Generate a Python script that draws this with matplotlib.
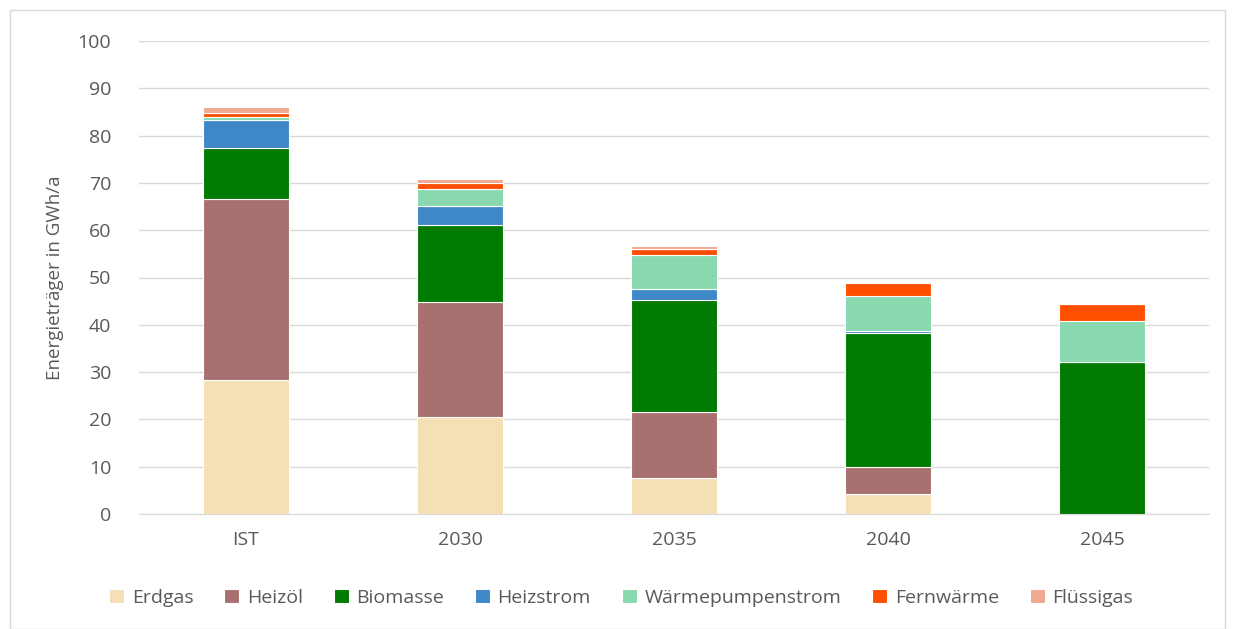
import matplotlib.pyplot as plt
import numpy as np
from matplotlib.patches import Rectangle

plt.rcParams["font.family"] = ["Open Sans", "DejaVu Sans"]

categories = ["IST", "2030", "2035", "2040", "2045"]

# Energieträger in GWh/a, stacked bottom to top
erdgas = [28.3, 20.5, 7.6, 4.3, 0.0]
heizoel = [38.4, 24.3, 13.9, 5.6, 0.0]
biomasse = [10.7, 16.4, 23.8, 28.3, 32.2]
heizstrom = [6.0, 3.9, 2.3, 0.4, 0.0]
waermepumpenstrom = [0.5, 3.7, 7.1, 7.5, 8.5]
fernwaerme = [0.8, 1.1, 1.3, 2.7, 3.6]
fluessiggas = [1.3, 1.0, 0.6, 0.0, 0.0]

series = [
    ("Erdgas", erdgas, "#F5DFB4"),
    ("Heizöl", heizoel, "#A87070"),
    ("Biomasse", biomasse, "#007A00"),
    ("Heizstrom", heizstrom, "#3F88C8"),
    ("Wärmepumpenstrom", waermepumpenstrom, "#88D8B0"),
    ("Fernwärme", fernwaerme, "#FF4F00"),
    ("Flüssigas", fluessiggas, "#F0A890"),
]

fig = plt.figure(figsize=(12.35, 6.29), dpi=100)
ax = fig.add_axes([139 / 1235, 1 - 514 / 629, 1070 / 1235, 473 / 629])

x = np.arange(len(categories))
bottom = np.zeros(len(categories))
for name, vals, color in series:
    vals = np.array(vals)
    ax.bar(x, vals, width=0.4, bottom=bottom, color=color, label=name,
           edgecolor="white", linewidth=0.8, zorder=3)
    bottom += vals

ax.set_xlim(-0.5, len(categories) - 0.5)
ax.set_ylim(0, 100)
ax.set_yticks(np.arange(0, 101, 10))
ax.set_xticks(x)
ax.set_xticklabels(categories)
ax.yaxis.grid(True, color="#D9D9D9", linewidth=1, zorder=0)
for side in ["top", "right", "left"]:
    ax.spines[side].set_visible(False)
ax.spines["bottom"].set_color("#D9D9D9")
ax.tick_params(axis="both", length=0, labelsize=14, labelcolor="#595959")
ax.tick_params(axis="y", pad=20)
ax.tick_params(axis="x", pad=12)
ax.set_ylabel("Energieträger in GWh/a", fontsize=13.5, color="#595959", labelpad=10)

# legend centred on the whole figure, below the category labels
fig.legend(loc="center", bbox_to_anchor=(0.503, 1 - 598 / 629), ncol=7, frameon=False,
           fontsize=14, handlelength=0.75, handleheight=0.75, handletextpad=0.4,
           columnspacing=1.6, labelcolor="#595959")

fig.patches.append(Rectangle((10 / 1235, 0.0), 1 - 20 / 1235, 1 - 10 / 629,
                             transform=fig.transFigure, fill=False,
                             edgecolor="#D9D9D9", linewidth=1))

fig.savefig("out.png", dpi=100)
